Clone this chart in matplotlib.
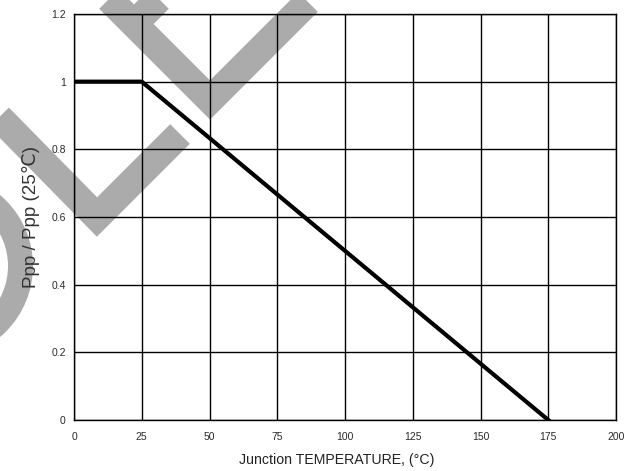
import matplotlib
matplotlib.use('Agg')
import matplotlib.pyplot as plt
from matplotlib.lines import Line2D
from matplotlib.patches import Ellipse

plt.rcParams['font.family'] = ['Liberation Sans', 'DejaVu Sans']

# derating curve
temp = [0, 25, 175]
ratio = [1.0, 1.0, 0.0]
x_ticks = [0, 25, 50, 75, 100, 125, 150, 175, 200]
y_ticks = [0, 0.2, 0.4, 0.6, 0.8, 1.0, 1.2]
y_tick_labels = ['0', '0.2', '0.4', '0.6', '0.8', '1', '1.2']

W, H = 636, 471
fig = plt.figure(figsize=(W / 100, H / 100), dpi=100)
fig.patch.set_facecolor('white')
wm = '#ababab'

# watermark strokes behind the chart (pixel coords)
def stroke(pts, lw=20):
    xs = [p[0] / W for p in pts]
    ys = [1 - p[1] / H for p in pts]
    fig.add_artist(Line2D(xs, ys, transform=fig.transFigure, color=wm,
                          lw=lw, solid_capstyle='butt', solid_joinstyle='miter',
                          zorder=-5))

stroke([(90, -20), (210, 100), (308, 2)])
stroke([(134, 24), (170, -12)])
stroke([(-20, 98), (97, 217), (180, 134)])
fig.add_artist(Ellipse((-60 / W, 1 - 266 / H), 161 / W, 161 / H, fill=False,
                       transform=fig.transFigure, edgecolor=wm, lw=18, zorder=-5))

ax = fig.add_axes([74 / W, 1 - 420 / H, 542 / W, 406 / H])
ax.set_facecolor('none')
ax.plot(temp, ratio, color='black', lw=3, zorder=3, solid_joinstyle='miter')

ax.set_xlim(0, 200)
ax.set_ylim(0, 1.2)
ax.set_xticks(x_ticks)
ax.set_yticks(y_ticks)
ax.set_yticklabels(y_tick_labels)
ax.grid(True, color='black', lw=1.0)
ax.set_axisbelow(False)
for s in ax.spines.values():
    s.set_color('black')
    s.set_linewidth(1.0)
ax.tick_params(axis='both', length=0, labelsize=7.5, colors='#2a2a2a')
ax.tick_params(axis='x', pad=9)
ax.tick_params(axis='y', pad=6)

ax.set_xlabel('Junction TEMPERATURE, (°C)', fontsize=10.2, color='#222222')
ax.xaxis.set_label_coords(0.485, -0.082)
ax.set_ylabel('Ppp / Ppp (25℃)', fontsize=13.5, color='#333333', labelpad=8)

fig.savefig('out.png', dpi=100)
